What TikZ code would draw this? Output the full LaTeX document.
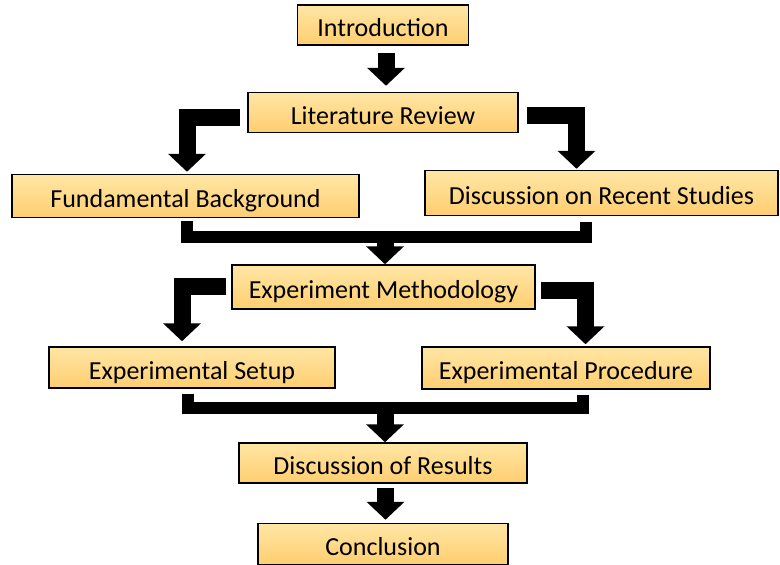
\documentclass[tikz,border=0pt]{standalone}
\usepackage{fontspec}
\setmainfont{Carlito}
\usetikzlibrary{arrows.meta,positioning}
\definecolor{boxtop}{RGB}{255,230,165}
\definecolor{boxbot}{RGB}{255,206,112}
\tikzstyle{block} = [draw=black, line width=1.5pt, top color=boxtop, bottom color=boxbot, inner sep=0pt, text height=25pt, text depth=2pt, font=\fontsize{26}{30}\selectfont]
\tikzstyle{bigarrow} = [line width=17pt, line join=miter, -{Triangle[width=37pt,length=18pt]}]
\tikzstyle{bar} = [line width=12pt, line join=miter]

\begin{document}
\begin{tikzpicture}[x=1pt, y=-1pt]
\useasboundingbox (0,0) rectangle (780,565);

% Top
\node[block, minimum width=171pt, minimum height=40pt] (intro) at (383,25) {Introduction};
\node[block, minimum width=270pt, minimum height=40pt] (lit) at (383,112.5) {Literature Review};

% Literature branch
\node[block, minimum width=347pt, minimum height=43pt] (fund) at (185.5,196) {Fundamental Background};
\node[block, minimum width=353pt, minimum height=45pt] (disc) at (601.5,193) {Discussion on Recent Studies};

% Methodology
\node[block, minimum width=303pt, minimum height=44pt] (meth) at (383.5,287) {Experiment Methodology};
\node[block, minimum width=286pt, minimum height=41pt] (setup) at (192,367.5) {Experimental Setup};
\node[block, minimum width=288pt, minimum height=42pt] (proc) at (566,368) {Experimental Procedure};

% Bottom
\node[block, minimum width=288pt, minimum height=40pt] (results) at (383,463) {Discussion of Results};
\node[block, minimum width=250pt, minimum height=41pt] (concl) at (383,544) {Conclusion};

% Merge points
\coordinate (join1) at (385,236.5);
\coordinate (join2) at (385,408);

% Connections
\draw[bigarrow, shorten <=7pt, shorten >=6pt] ([xshift=3pt]intro.south) -- ([xshift=3pt]lit.north);

\draw[bigarrow, shorten >=2pt] ([xshift=-7pt,yshift=-5pt]lit.west) -| ([xshift=1.5pt]fund.north);
\draw[bigarrow, shorten >=1pt] ([xshift=8pt,yshift=-3pt]lit.east) -| ([xshift=-25pt]disc.north);

\draw[bar] ([xshift=1.5pt,yshift=-3pt]fund.south) |- (join1) -| ([xshift=-15.5pt,yshift=-5.5pt]disc.south);
\draw[bigarrow, shorten <=4pt] (join1) -- (join1 |- meth.north);

\draw[bigarrow, shorten >=5pt] ([xshift=-5pt,yshift=1pt]meth.west) -| ([xshift=-10pt]setup.north);
\draw[bigarrow, shorten >=2pt] ([xshift=5pt,yshift=-3pt]meth.east) -| ([xshift=19.5pt]proc.north);

\draw[bar] ([xshift=-4.5pt,yshift=-5pt]setup.south) |- (join2) -| ([xshift=17pt,yshift=-5pt]proc.south);
\draw[bigarrow, shorten <=4pt] (join2) -- (join2 |- results.north);

\draw[bigarrow, shorten <=4pt, shorten >=3pt] ([xshift=2.5pt]results.south) -- ([xshift=2.5pt]concl.north);
\end{tikzpicture}
\end{document}
